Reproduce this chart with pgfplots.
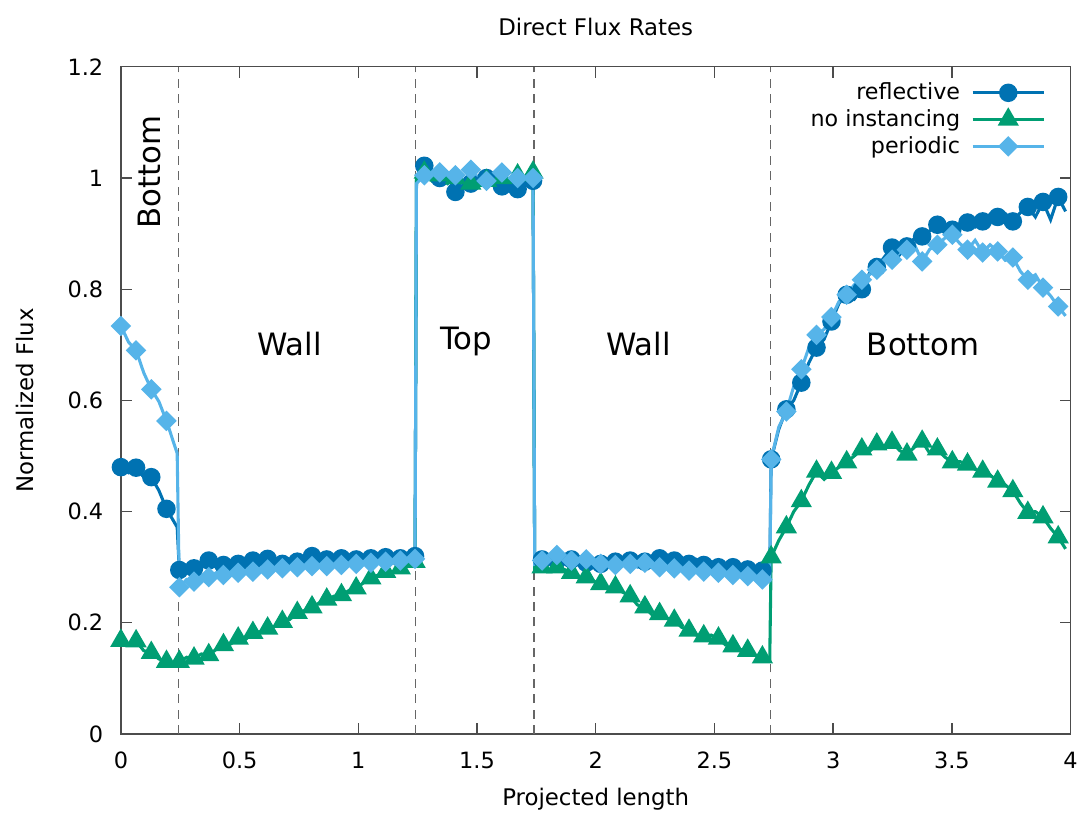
\documentclass[border=0pt]{standalone}
\usepackage{fontspec}
\setmainfont{DejaVu Sans}
\usepackage{pgfplots}
\usepackage{pgfplotstable}
\pgfplotsset{compat=1.18}
\usetikzlibrary{plotmarks}

\definecolor{cRefl}{HTML}{0072B2}
\definecolor{cNoInst}{HTML}{009E73}
\definecolor{cPer}{HTML}{56B4E9}

% Columns: projected length, reflective, no instancing, periodic
\pgfplotstableread{
x      refl   noinst  per
0.000  0.480  0.168  0.734
0.032  0.470  0.160  0.705
0.064  0.479  0.167  0.690
0.096  0.462  0.150  0.650
0.128  0.462  0.146  0.620
0.160  0.438  0.135  0.598
0.192  0.405  0.130  0.563
0.237  0.372  0.124  0.505
0.246  0.295  0.130  0.264
0.277  0.300  0.138  0.278
0.308  0.298  0.136  0.274
0.339  0.306  0.144  0.286
0.370  0.312  0.142  0.282
0.401  0.300  0.152  0.290
0.432  0.304  0.160  0.286
0.463  0.300  0.162  0.294
0.494  0.306  0.172  0.290
0.525  0.302  0.170  0.296
0.556  0.312  0.182  0.292
0.587  0.305  0.184  0.300
0.618  0.315  0.190  0.296
0.649  0.308  0.194  0.302
0.680  0.306  0.202  0.298
0.711  0.303  0.206  0.304
0.743  0.310  0.218  0.300
0.774  0.312  0.222  0.306
0.805  0.320  0.228  0.302
0.836  0.310  0.236  0.306
0.867  0.314  0.242  0.302
0.898  0.305  0.248  0.308
0.929  0.316  0.250  0.304
0.960  0.310  0.258  0.310
0.991  0.314  0.262  0.306
1.022  0.308  0.272  0.312
1.053  0.316  0.280  0.308
1.084  0.312  0.286  0.314
1.115  0.318  0.292  0.310
1.146  0.310  0.290  0.316
1.177  0.316  0.298  0.312
1.208  0.314  0.302  0.318
1.239  0.320  0.310  0.315
1.245  0.995  1.005  0.990
1.278  1.022  1.010  1.005
1.310  1.005  0.995  1.000
1.343  1.000  1.005  1.010
1.376  1.005  0.990  0.995
1.409  0.975  1.000  1.005
1.441  0.990  0.985  0.990
1.474  0.990  0.990  1.015
1.507  0.995  0.985  1.000
1.540  1.000  0.995  0.995
1.572  1.005  0.990  1.005
1.605  0.985  1.000  1.010
1.638  0.995  0.995  0.995
1.671  0.980  1.005  1.000
1.703  0.990  1.000  0.990
1.736  0.995  1.010  1.000
1.743  0.308  0.298  0.306
1.774  0.314  0.300  0.312
1.805  0.310  0.296  0.316
1.836  0.312  0.300  0.322
1.867  0.306  0.296  0.318
1.898  0.314  0.290  0.312
1.929  0.310  0.280  0.308
1.960  0.308  0.282  0.314
1.991  0.314  0.275  0.310
2.021  0.306  0.270  0.306
2.052  0.312  0.262  0.310
2.083  0.310  0.264  0.304
2.114  0.306  0.255  0.310
2.145  0.312  0.248  0.306
2.176  0.304  0.232  0.300
2.207  0.310  0.228  0.308
2.238  0.308  0.214  0.304
2.269  0.316  0.216  0.300
2.300  0.322  0.208  0.304
2.331  0.312  0.204  0.298
2.362  0.318  0.192  0.302
2.393  0.306  0.186  0.294
2.424  0.314  0.178  0.300
2.455  0.304  0.176  0.292
2.486  0.310  0.178  0.296
2.517  0.300  0.172  0.290
2.547  0.306  0.160  0.294
2.578  0.300  0.158  0.286
2.609  0.304  0.152  0.290
2.640  0.296  0.150  0.284
2.671  0.300  0.142  0.280
2.702  0.294  0.138  0.278
2.733  0.296  0.135  0.276
2.739  0.494  0.318  0.494
2.771  0.548  0.348  0.552
2.803  0.584  0.372  0.580
2.834  0.600  0.400  0.625
2.866  0.632  0.419  0.656
2.898  0.668  0.448  0.695
2.930  0.695  0.472  0.718
2.962  0.710  0.458  0.728
2.993  0.742  0.470  0.750
3.025  0.775  0.480  0.778
3.057  0.790  0.489  0.790
3.089  0.782  0.500  0.808
3.121  0.800  0.512  0.817
3.152  0.828  0.508  0.826
3.184  0.840  0.521  0.835
3.216  0.858  0.514  0.850
3.248  0.875  0.524  0.853
3.280  0.862  0.510  0.866
3.311  0.877  0.503  0.871
3.343  0.892  0.516  0.880
3.375  0.895  0.526  0.850
3.407  0.905  0.505  0.872
3.439  0.916  0.512  0.880
3.471  0.900  0.498  0.892
3.502  0.907  0.489  0.898
3.534  0.918  0.490  0.882
3.566  0.920  0.485  0.871
3.598  0.912  0.476  0.888
3.630  0.922  0.472  0.866
3.661  0.935  0.466  0.880
3.693  0.930  0.454  0.868
3.725  0.936  0.448  0.852
3.757  0.922  0.437  0.857
3.789  0.938  0.415  0.832
3.820  0.948  0.398  0.817
3.852  0.930  0.400  0.826
3.884  0.957  0.390  0.803
3.916  0.925  0.370  0.788
3.948  0.966  0.354  0.769
3.979  0.940  0.333  0.752
}\fluxdata

\begin{document}
\begin{tikzpicture}
\begin{axis}[
  scale only axis,
  width=432pt, height=303.5pt,
  xmin=0, xmax=4, ymin=0, ymax=1.2,
  xtick={0,0.5,...,4}, ytick={0,0.2,...,1.2},
  minor tick num=0,
  tick align=inside,
  major tick length=5pt,
  axis line style={black!70, line width=0.6pt},
  every tick/.style={black!70, line width=0.6pt},
  /pgf/number format/assume math mode=true,
  tick label style={font=\fontsize{10.2}{12}\selectfont},
  xticklabel style={yshift=-4.5pt},
  yticklabel style={xshift=-4.5pt},
  title={Direct Flux Rates},
  title style={font=\fontsize{10.4}{12}\selectfont, at={(axis description cs:0.5,1.04)}, anchor=center},
  xlabel={Projected length},
  ylabel={Normalized Flux},
  label style={font=\fontsize{10.4}{12}\selectfont},
  xlabel style={at={(axis description cs:0.5,-0.097)}, anchor=center},
  ylabel style={at={(axis description cs:-0.101,0.5)}, anchor=center},
  clip=false,
  legend style={draw=none, fill=none, at={(0.981,0.99)}, anchor=north east,
    font=\fontsize{10.1}{12}\selectfont, row sep=-1pt, column sep=3pt},
  legend cell align=right,
  legend plot pos=right,
  legend image code/.code={
    \draw[mark repeat=2, mark phase=2] plot coordinates {(0cm,0cm) (0.57cm,0cm) (1.14cm,0cm)};
  },
]
% boundaries between bottom, wall and top segments
\addplot[forget plot, black!60, line width=0.5pt, dash pattern=on 4pt off 3pt] coordinates {(0.243,0) (0.243,1.2)};
\addplot[forget plot, black!60, line width=0.5pt, dash pattern=on 4pt off 3pt] coordinates {(1.242,0) (1.242,1.2)};
\addplot[forget plot, black!60, line width=0.5pt, dash pattern=on 4pt off 3pt] coordinates {(1.740,0) (1.740,1.2)};
\addplot[forget plot, black!60, line width=0.5pt, dash pattern=on 4pt off 3pt] coordinates {(2.736,0) (2.736,1.2)};

\addplot[cRefl, line width=1.4pt, mark=*, mark size=3.5pt, mark repeat=2,
  mark options={solid, fill=cRefl, draw=cRefl}] table[x=x, y=refl] {\fluxdata};
\addlegendentry{reflective}
\addplot[cNoInst, line width=1.4pt, mark=triangle*, mark size=4.2pt, mark repeat=2,
  mark options={solid, fill=cNoInst, draw=cNoInst}] table[x=x, y=noinst] {\fluxdata};
\addlegendentry{no instancing}
\addplot[cPer, line width=1.4pt, mark=square*, mark size=2.6pt, mark repeat=2,
  mark options={solid, fill=cPer, draw=cPer, rotate=45}] table[x=x, y=per] {\fluxdata};
\addlegendentry{periodic}

% segment names
\node[rotate=90, font=\fontsize{14}{16}\selectfont] at (axis cs:0.122,1.011) {Bottom};
\node[font=\fontsize{14}{16}\selectfont] at (axis cs:0.71,0.702) {Wall};
\node[font=\fontsize{14}{16}\selectfont] at (axis cs:1.455,0.706) {Top};
\node[font=\fontsize{14}{16}\selectfont] at (axis cs:2.18,0.702) {Wall};
\node[font=\fontsize{14}{16}\selectfont] at (axis cs:3.38,0.70) {Bottom};
\end{axis}
% page margins around the axis
\path (current axis.south west) ++(-55pt,-36.3pt);
\path (current axis.north east) ++(5.9pt,30.4pt);
\end{tikzpicture}
\end{document}
